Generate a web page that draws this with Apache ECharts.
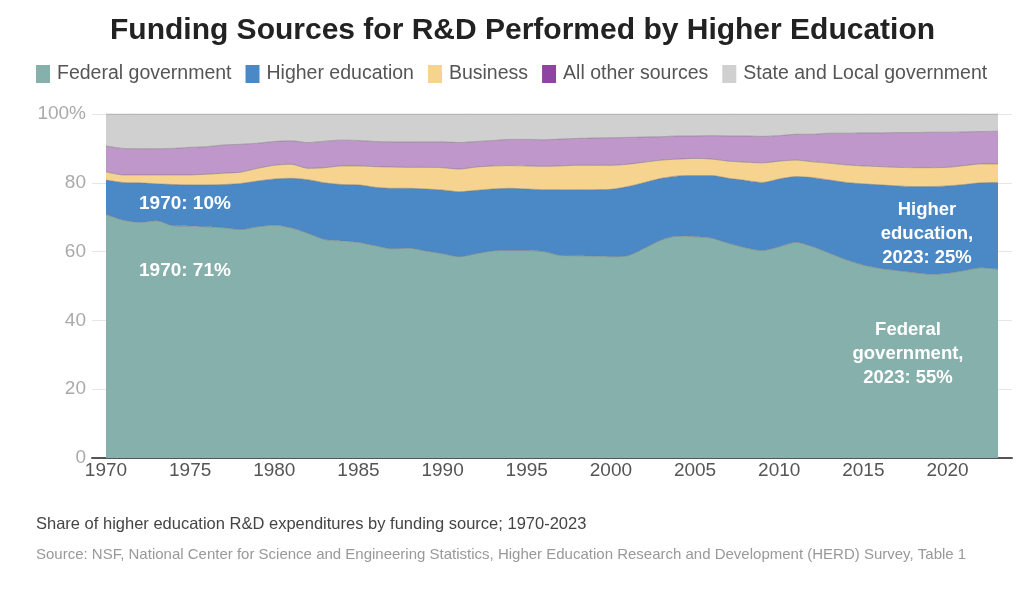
<!DOCTYPE html>
<html>
<head>
<meta charset="utf-8">
<script src="https://cdn.jsdelivr.net/npm/echarts@6/dist/echarts.min.js"></script>
<style>
  html, body { margin: 0; padding: 0; background: #fff; }
  #chart { width: 1024px; height: 610px; }
</style>
</head>
<body>
<div id="chart"></div>
<script>
// Years 1970-2023
const years = [];
for (let y = 1970; y <= 2023; y++) years.push(String(y));

// Share of higher education R&D by funding source (%)
const federal = [70.8, 69.2, 68.5, 69.0, 67.5, 67.4, 67.2, 66.9, 66.4, 67.2,
  67.7, 66.9, 65.3, 63.5, 63.1, 62.7, 61.7, 60.8, 61.0, 60.2,
  59.4, 58.5, 59.4, 60.2, 60.3, 60.3, 60.0, 58.9, 58.8, 58.7,
  58.5, 58.8, 61.0, 63.4, 64.5, 64.3, 63.9, 62.4, 61.1, 60.3,
  61.4, 62.7, 61.4, 59.5, 57.6, 56.1, 55.1, 54.5, 53.9, 53.4,
  53.7, 54.5, 55.3, 54.9];
const higherEd = [10.0, 10.9, 11.5, 10.7, 12.0, 12.0, 12.2, 12.6, 13.4, 13.3,
  13.4, 14.4, 15.6, 16.5, 16.4, 16.7, 17.0, 17.6, 17.4, 18.0,
  18.5, 18.9, 18.4, 18.0, 18.1, 17.9, 18.0, 19.1, 19.2, 19.3,
  19.6, 20.1, 19.1, 17.9, 17.5, 17.8, 18.2, 18.9, 19.6, 19.8,
  19.7, 19.1, 20.1, 21.3, 22.5, 23.6, 24.3, 24.6, 25.0, 25.5,
  25.4, 25.0, 24.7, 25.2];
const business = [2.4, 2.2, 2.3, 2.6, 2.8, 2.9, 3.1, 3.3, 3.3, 3.7,
  4.0, 4.1, 3.3, 4.4, 5.4, 5.5, 6.0, 6.2, 6.1, 6.3,
  6.5, 6.6, 6.8, 6.7, 6.6, 6.7, 6.8, 6.9, 7.1, 7.1,
  7.0, 6.5, 5.9, 5.3, 4.9, 5.0, 4.8, 5.0, 5.3, 5.7,
  5.2, 4.8, 4.6, 4.9, 5.1, 5.2, 5.3, 5.4, 5.5, 5.5,
  5.4, 5.5, 5.5, 5.4];
const otherSources = [7.5, 7.7, 7.6, 7.6, 7.7, 8.0, 8.0, 8.2, 8.1, 7.3,
  6.9, 6.8, 7.5, 7.7, 7.5, 7.4, 7.3, 7.3, 7.4, 7.4,
  7.5, 7.7, 7.4, 7.4, 7.6, 7.7, 7.7, 7.8, 7.8, 7.9,
  8.0, 7.8, 7.3, 6.8, 6.7, 6.5, 6.8, 7.3, 7.6, 7.7,
  7.4, 7.5, 8.0, 8.7, 9.2, 9.6, 9.8, 10.1, 10.2, 10.3,
  10.2, 9.8, 9.4, 9.5];
const stateLocal = [9.3, 10.0, 10.1, 10.1, 10.0, 9.7, 9.5, 9.0, 8.8, 8.5,
  8.0, 7.8, 8.3, 7.9, 7.6, 7.7, 8.0, 8.1, 8.1, 8.1,
  8.1, 8.3, 8.0, 7.7, 7.4, 7.4, 7.5, 7.3, 7.1, 7.0,
  6.9, 6.8, 6.7, 6.6, 6.4, 6.4, 6.3, 6.4, 6.4, 6.5,
  6.3, 5.9, 5.9, 5.6, 5.6, 5.5, 5.5, 5.4, 5.4, 5.3,
  5.3, 5.2, 5.1, 5.0];

const FONT = '"Liberation Sans", Arial, sans-serif';

function areaSeries(name, data, legendColor, fillColor) {
  return {
    name: name,
    type: 'line',
    stack: 'total',
    data: data,
    symbol: 'none',
    smooth: 0.25,
    xAxisIndex: 0,
    yAxisIndex: 0,
    itemStyle: { color: legendColor },
    lineStyle: { width: 1, color: 'rgba(120,120,120,0.55)' },
    areaStyle: { color: fillColor, opacity: 1 },
    emphasis: { disabled: true }
  };
}

const myChart = echarts.init(document.getElementById('chart'));
const option = {
  animation: false,
  title: {
    text: 'Funding Sources for R&D Performed by Higher Education',
    left: 110,
    top: 16,
    padding: 0,
    textStyle: { fontFamily: FONT, fontWeight: 'bold', fontSize: 30, color: '#222' }
  },
  legend: {
    left: 36,
    top: 64,
    padding: 0,
    icon: 'rect',
    itemWidth: 14,
    itemHeight: 18,
    itemGap: 14,
    textStyle: { fontFamily: FONT, fontSize: 19.5, color: '#555', padding: [0, 0, 0, 2] },
    data: ['Federal government', 'Higher education', 'Business', 'All other sources', 'State and Local government']
  },
  grid: [
    { left: 106, right: 26, top: 114, bottom: 152 },
    { left: 92, right: 12, top: 114, bottom: 152 }
  ],
  xAxis: [
    {
      type: 'category',
      gridIndex: 0,
      data: years,
      boundaryGap: false,
      axisLine: { show: false },
      axisTick: { show: false },
      axisLabel: {
        interval: (i) => i % 5 === 0,
        fontFamily: FONT, fontSize: 19, color: '#555', margin: 3
      }
    },
    {
      type: 'value',
      gridIndex: 1,
      min: 0, max: 1,
      axisLine: { show: true, onZero: false, lineStyle: { color: '#555', width: 2 } },
      axisTick: { show: false },
      axisLabel: { show: false },
      splitLine: { show: false }
    }
  ],
  yAxis: [
    {
      type: 'value',
      gridIndex: 0,
      min: 0, max: 100, interval: 20,
      axisLine: { show: false },
      axisTick: { show: false },
      axisLabel: { show: false },
      splitLine: { show: false }
    },
    {
      type: 'value',
      gridIndex: 1,
      min: 0, max: 100, interval: 20,
      axisLine: { show: false },
      axisTick: { show: false },
      axisLabel: {
        formatter: (v) => (v === 100 ? '100%' : String(v)),
        fontFamily: FONT, fontSize: 19, color: '#aaa', margin: 6
      },
      splitLine: { show: true, lineStyle: { color: '#e6e6e6', width: 1 } }
    }
  ],
  series: [
    areaSeries('Federal government', federal, '#86b0ab', '#86b0ab'),
    areaSeries('Higher education', higherEd, '#4a88c6', '#4a88c6'),
    areaSeries('Business', business, '#f6d38e', '#f6d38e'),
    areaSeries('All other sources', otherSources, '#8e44a0', '#bf97cb'),
    areaSeries('State and Local government', stateLocal, '#d0d0d0', '#d0d0d0')
  ],
  graphic: [
    { type: 'text', x: 139, y: 204, z: 100, silent: true,
      style: { text: '1970: 10%', fill: '#fff', font: 'bold 19px ' + FONT, verticalAlign: 'middle' } },
    { type: 'text', x: 139, y: 271, z: 100, silent: true,
      style: { text: '1970: 71%', fill: '#fff', font: 'bold 19px ' + FONT, verticalAlign: 'middle' } },
    { type: 'text', x: 927, y: 234, z: 100, silent: true,
      style: { text: 'Higher\neducation,\n2023: 25%', fill: '#fff', font: 'bold 18.5px ' + FONT,
        align: 'center', verticalAlign: 'middle', lineHeight: 24 } },
    { type: 'text', x: 908, y: 354, z: 100, silent: true,
      style: { text: 'Federal\ngovernment,\n2023: 55%', fill: '#fff', font: 'bold 18.5px ' + FONT,
        align: 'center', verticalAlign: 'middle', lineHeight: 24 } },
    { type: 'text', left: 36, top: 516, silent: true,
      style: { text: 'Share of higher education R&D expenditures by funding source; 1970-2023',
        fill: '#444', font: '16.5px ' + FONT } },
    { type: 'text', left: 36, top: 547, silent: true,
      style: { text: 'Source: NSF, National Center for Science and Engineering Statistics, Higher Education Research and Development (HERD) Survey, Table 1',
        fill: '#999', font: '15px ' + FONT } }
  ]
};
myChart.setOption(option);
window.addEventListener('resize', () => myChart.resize());
</script>
</body>
</html>
